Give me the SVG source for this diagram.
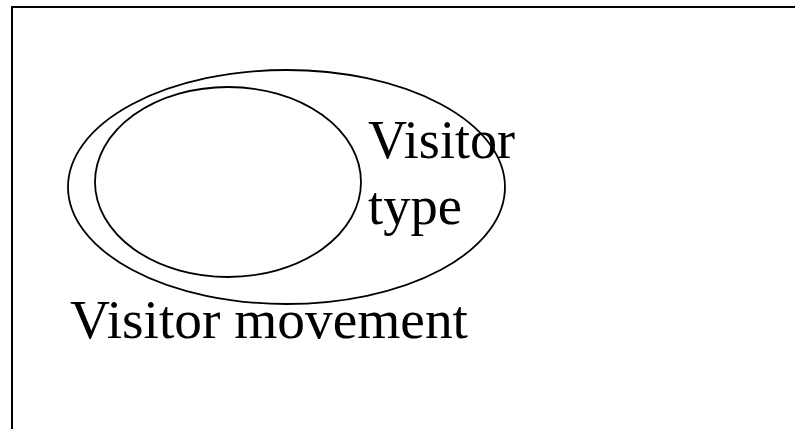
<svg xmlns="http://www.w3.org/2000/svg" width="795" height="429" viewBox="0 0 795 429">
<style>
.sh{fill:none;stroke:#000;stroke-width:1.8}
.t{font-family:"Liberation Serif","Times New Roman",serif;font-size:54px;fill:#000}
</style>
<rect width="795" height="429" fill="#fff"/>
<g id="frame">
<line x1="11" y1="7" x2="795" y2="7" stroke="#000" stroke-width="2"/>
<line x1="12" y1="6" x2="12" y2="429" stroke="#000" stroke-width="2"/>
</g>
<g id="visitor-movement">
<ellipse class="sh" cx="286.5" cy="187" rx="218.5" ry="117"/>
<text class="t" x="70" y="338" textLength="398" lengthAdjust="spacingAndGlyphs">Visitor movement</text>
</g>
<g id="visitor-type">
<ellipse class="sh" cx="228" cy="182" rx="133" ry="95"/>
<text class="t" x="368" y="158" textLength="147" lengthAdjust="spacingAndGlyphs">Visitor</text>
<text class="t" x="368" y="224" textLength="94" lengthAdjust="spacingAndGlyphs">type</text>
</g>
<g id="connectors"/>
</svg>
